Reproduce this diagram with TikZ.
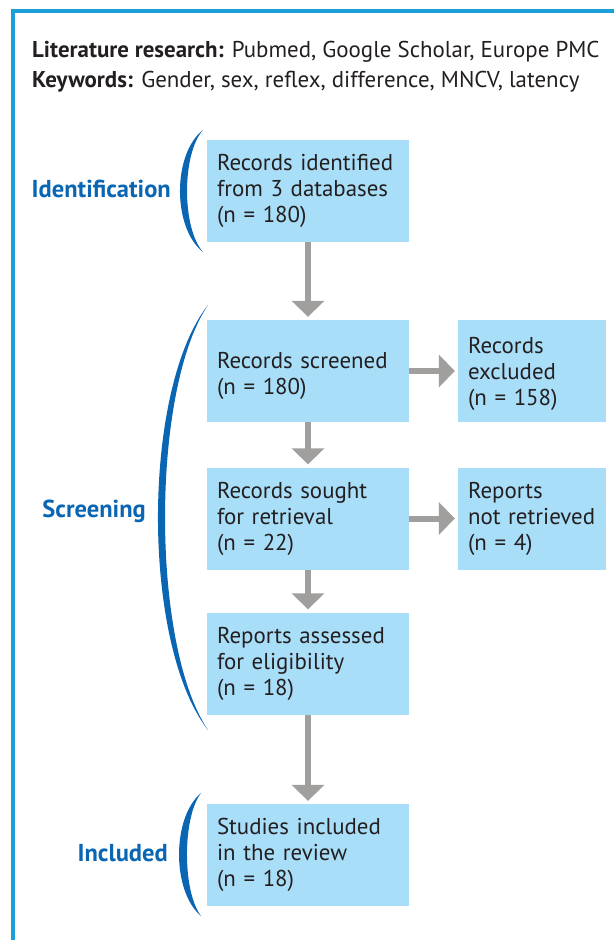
\documentclass[tikz,border=0pt]{standalone}
\usepackage{fontspec}
\setmainfont{PT Sans}
\usetikzlibrary{arrows.meta}

\definecolor{framecyan}{HTML}{1BA0DA}
\definecolor{stageblue}{HTML}{0A66B2}
\definecolor{boxfill}{HTML}{A9DEF9}
\definecolor{arrowgray}{HTML}{A19E9E}
\definecolor{textdark}{HTML}{231F20}

\newcommand{\boxfont}{\fontsize{22.9}{26}\selectfont}
\newcommand{\hdrfont}{\fontsize{22.9}{25}\selectfont}
\newcommand{\stagefont}{\fontsize{24.5}{26}\selectfont\bfseries}
% taller first line, used to push two-line texts a little lower in their box
\newcommand{\tallfirst}{\rule{0pt}{27pt}}

\begin{document}
\begin{tikzpicture}[x=1pt,y=-1pt,
  box/.style={fill=boxfill, minimum width=202pt, minimum height=102pt,
    inner xsep=10pt, inner ysep=0pt, text width=182pt, align=left,
    font=\boxfont, text=textdark},
  sidebox/.style={box, minimum width=148pt, text width=128pt},
  flow/.style={draw=arrowgray, line width=6pt,
    -{Triangle[width=32pt,length=16pt]}, shorten >=3pt},
  stage/.style={text=stageblue, font=\stagefont, anchor=base east, inner sep=0pt},
  bracket/.style={fill=stageblue, draw=none},
  header/.style={anchor=base west, inner sep=0pt, font=\hdrfont, text=textdark}]

\useasboundingbox (0,0) rectangle (614,940);

% open frame: top and left rules
\draw[framecyan, line width=3.8pt, line join=miter]
  (12.8,940) -- (12.8,11.3) -- (614,11.3);

% search description
\node[header] (lit) at (32,57) {\textbf{Literature research:} Pubmed, Google Scholar, Europe PMC};
\node[header] (kw) at (32,87) {\textbf{Keywords:} Gender, sex, reflex, difference, MNCV, latency};

% flow boxes
\node[box] (ident) at (308,191) {Records identified\\from 3 databases\\(n = 180)};
\node[box] (screen) at (308,371) {\tallfirst Records screened\\(n = 180)};
\node[box] (sought) at (308,518.5) {Records sought\\for retrieval\\(n = 22)};
\node[box] (assess) at (308,663.5) {Reports assessed\\for eligibility\\(n = 18)};
\node[box] (incl) at (308,855) {Studies included\\in the review\\(n = 18)};
\node[sidebox] (excl) at (532,371) {\rule{0pt}{23pt}Records\\excluded\\(n = 158)};
\node[sidebox] (notret) at (532,518.5) {Reports\\not retrieved\\(n = 4)};

% connectors
\draw[flow] (ident) -- (screen);
\draw[flow] (screen) -- (sought);
\draw[flow] (sought) -- (assess);
\draw[flow] (assess) -- (incl);
\draw[flow] (screen) -- (excl);
\draw[flow] (sought) -- (notret);

% stage brackets
\fill[bracket] (203,130) .. controls (172.3,154) and (172.3,228) .. (203,252)
  .. controls (181.7,228) and (181.7,154) .. (203,130) -- cycle;
\fill[bracket] (208,305) .. controls (141.3,390) and (141.3,645) .. (208,730)
  .. controls (150.7,645) and (150.7,390) .. (208,305) -- cycle;
\fill[bracket] (201,793) .. controls (171.7,817.6) and (171.7,891.4) .. (201,916)
  .. controls (182.3,891.4) and (182.3,817.6) .. (201,793) -- cycle;

% stage labels
\node[stage] (lident) at (171,197) {Identification};
\node[stage] (lscreen) at (146,517) {Screening};
\node[stage] (lincl) at (168,861) {Included};
\end{tikzpicture}
\end{document}
